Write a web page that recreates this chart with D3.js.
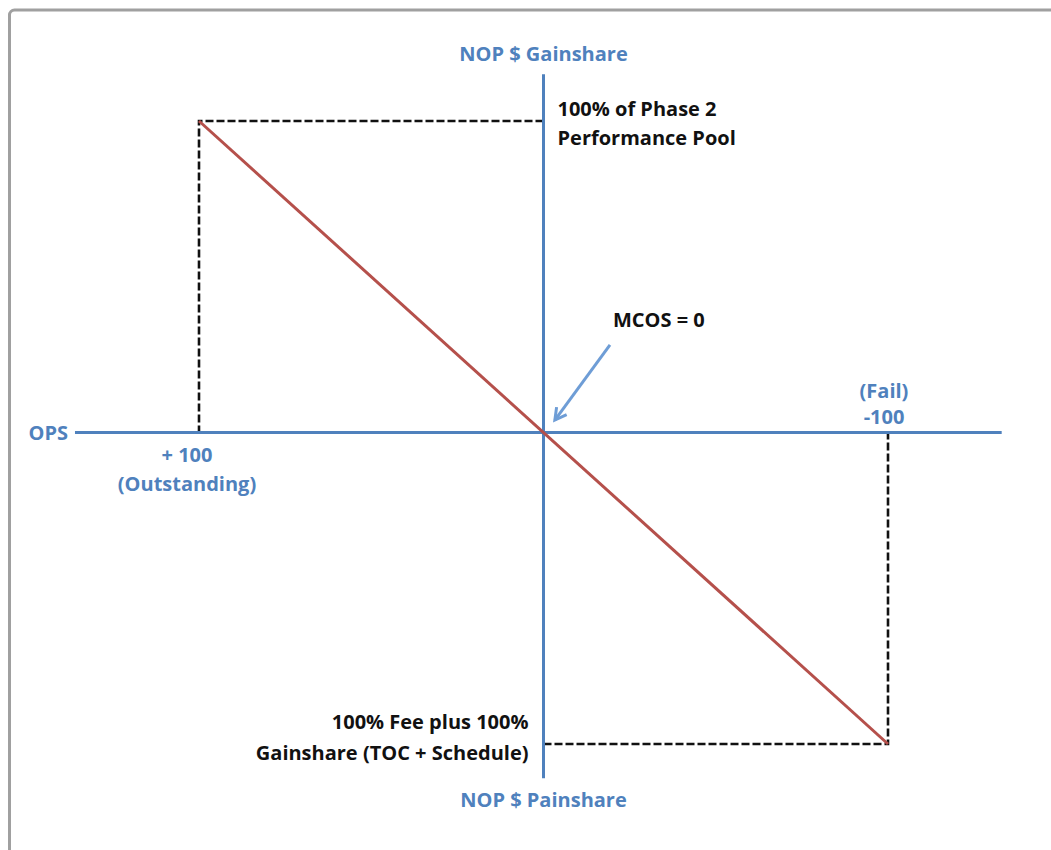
<!DOCTYPE html>
<html>
<head>
<meta charset="utf-8">
<script src="https://cdn.jsdelivr.net/npm/d3@7"></script>
<style>
  html, body { margin: 0; padding: 0; background: #fff; }
  svg { display: block; }
  text { font-family: "Open Sans", Lato, sans-serif; font-weight: bold; }
</style>
</head>
<body>
<svg id="chart" width="1051" height="850"></svg>
<script>
// OPS runs from +100 (outstanding, left) to -100 (fail, right)
const opsDomain = [100, -100];
// NOP $ runs from -100 (painshare, bottom) to +100 (gainshare, top)
const nopDomain = [-100, 100];

// how far the two axes reach past the +/-100 marks
const opsAxisEnds = [136, -133];
const nopAxisEnds = [115, -111];

// the sharing line: full gainshare at +100 OPS, full painshare at -100 OPS
const shareLine = [
    {ops: 100, nop: 100},
    {ops: -100, nop: -100}
];

// MCOS arrow, tail then tip
const mcosArrow = [
    {ops: -19.3, nop: 28.1},
    {ops: -3.3, nop: 4.0}
];

const topLabel = 'NOP $ Gainshare';
const bottomLabel = 'NOP $ Painshare';
const leftLabel = 'OPS';
const bestLabel = ['+ 100', '(Outstanding)'];
const worstLabel = ['(Fail)', '-100'];
const poolLabel = ['100% of Phase 2', 'Performance Pool'];
const feeLabel = ['100% Fee plus 100%', 'Gainshare (TOC + Schedule)'];
const mcosLabel = 'MCOS = 0';

const svg = d3.select('#chart');
const blue = '#4f81bd';

const x = d3.scaleLinear()
    .domain(opsDomain)
    .range([199, 888]);

const y = d3.scaleLinear()
    .domain(nopDomain)
    .range([744, 121]);

// frame round the picture (runs off the right and bottom edge)
svg.append('rect')
    .attr('x', 9.5)
    .attr('y', 10)
    .attr('width', 1100)
    .attr('height', 900)
    .attr('rx', 5)
    .attr('fill', 'none')
    .attr('stroke', '#a0a0a0')
    .attr('stroke-width', 3);

// dashed guides
const corners = shareLine.map(d => [
    [x(0), y(d.nop)],
    [x(d.ops), y(d.nop)],
    [x(d.ops), y(0)]
]);

svg.append('g')
    .selectAll('path')
    .data(corners)
    .enter().append('path')
    .attr('d', d3.line())
    .attr('fill', 'none')
    .attr('stroke', '#111')
    .attr('stroke-width', 2.6)
    .attr('stroke-dasharray', '8,3');

// axes
svg.append('line')
    .attr('x1', x(opsAxisEnds[0]))
    .attr('x2', x(opsAxisEnds[1]))
    .attr('y1', y(0))
    .attr('y2', y(0))
    .attr('stroke', blue)
    .attr('stroke-width', 3);

svg.append('line')
    .attr('x1', x(0))
    .attr('x2', x(0))
    .attr('y1', y(nopAxisEnds[0]))
    .attr('y2', y(nopAxisEnds[1]))
    .attr('stroke', blue)
    .attr('stroke-width', 3);

// share line
svg.append('path')
    .datum(shareLine)
    .attr('d', d3.line().x(d => x(d.ops)).y(d => y(d.nop)))
    .attr('fill', 'none')
    .attr('stroke', '#b5504b')
    .attr('stroke-width', 3);

// MCOS arrow
const tail = [x(mcosArrow[0].ops), y(mcosArrow[0].nop)];
const tip = [x(mcosArrow[1].ops), y(mcosArrow[1].nop)];
const ang = Math.atan2(tail[1] - tip[1], tail[0] - tip[0]);
const head = 13;
const spread = 0.5;

svg.append('path')
    .attr('d', d3.line()([tail, tip]))
    .attr('stroke', '#6e9dd6')
    .attr('stroke-width', 3)
    .attr('fill', 'none');

svg.append('path')
    .attr('d', d3.line()([
        [tip[0] + head * Math.cos(ang - spread), tip[1] + head * Math.sin(ang - spread)],
        tip,
        [tip[0] + head * Math.cos(ang + spread), tip[1] + head * Math.sin(ang + spread)]
    ]))
    .attr('stroke', '#6e9dd6')
    .attr('stroke-width', 3)
    .attr('stroke-linejoin', 'miter')
    .attr('fill', 'none');

// labels
function label(lines, px, py, anchor, color, gap) {
    const t = svg.append('text')
        .attr('x', px)
        .attr('y', py)
        .attr('text-anchor', anchor)
        .attr('fill', color)
        .attr('font-size', 20);
    [].concat(lines).forEach((s, i) => {
        t.append('tspan')
            .attr('x', px)
            .attr('dy', i === 0 ? 0 : gap)
            .text(s);
    });
    return t;
}

label(topLabel, x(0), 61, 'middle', blue, 0);
label(bottomLabel, x(0), 807, 'middle', blue, 0);
label(leftLabel, 68, 440, 'end', blue, 0);
label(bestLabel, x(100) - 12, 462, 'middle', blue, 29);
label(worstLabel, x(-100) - 4, 398, 'middle', blue, 26);
label(poolLabel, x(0) + 14, 116, 'start', '#111', 29);
label(feeLabel, x(0) - 15, 729, 'end', '#111', 31);
label(mcosLabel, 613, 327, 'start', '#111', 0);
</script>
</body>
</html>
